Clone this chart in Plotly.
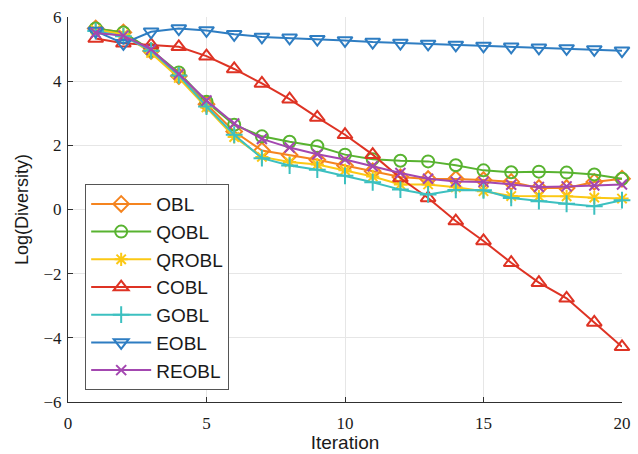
import plotly.graph_objects as go

iterations = list(range(1, 21))

obl   = [5.64, 5.52, 4.94, 4.16, 3.28, 2.43, 1.84, 1.70, 1.55, 1.37, 1.19, 1.01, 0.95, 0.95, 0.92, 0.86, 0.67, 0.67, 0.86, 0.96]
qobl  = [5.64, 5.52, 4.97, 4.27, 3.36, 2.64, 2.28, 2.11, 1.97, 1.71, 1.57, 1.52, 1.50, 1.38, 1.22, 1.16, 1.18, 1.15, 1.09, 0.96]
qrobl = [5.60, 5.46, 4.88, 4.10, 3.18, 2.26, 1.64, 1.48, 1.40, 1.22, 1.03, 0.78, 0.78, 0.69, 0.57, 0.42, 0.41, 0.41, 0.37, 0.34]
cobl  = [5.33, 5.18, 5.13, 5.07, 4.78, 4.38, 3.93, 3.44, 2.87, 2.33, 1.71, 0.98, 0.36, -0.36, -0.98, -1.66, -2.28, -2.77, -3.52, -4.28]
gobl  = [5.56, 5.40, 4.95, 4.18, 3.21, 2.33, 1.60, 1.37, 1.24, 1.05, 0.85, 0.62, 0.47, 0.61, 0.60, 0.36, 0.26, 0.18, 0.10, 0.29]
eobl  = [5.56, 5.18, 5.54, 5.64, 5.58, 5.46, 5.38, 5.35, 5.31, 5.27, 5.22, 5.19, 5.16, 5.13, 5.10, 5.07, 5.04, 5.02, 4.99, 4.95]
reobl = [5.50, 5.42, 4.99, 4.22, 3.40, 2.68, 2.20, 1.93, 1.72, 1.56, 1.35, 1.14, 0.96, 0.87, 0.86, 0.77, 0.70, 0.72, 0.75, 0.78]

names   = ["OBL", "QOBL", "QROBL", "COBL", "GOBL", "EOBL", "REOBL"]
series  = [obl, qobl, qrobl, cobl, gobl, eobl, reobl]
colors  = ["#F5841F", "#58B330", "#FBC814", "#DE3324", "#3CC0C0", "#2E7DC2", "#A347B0"]
symbols = ["diamond-open", "circle-open", "asterisk-open", "triangle-up-open",
           "cross-thin-open", "triangle-down-open", "x-thin-open"]
msizes  = [12, 12, 11, 13, 12, 13, 10]

x_ticks = [0, 5, 10, 15, 20]
y_ticks = [-6, -4, -2, 0, 2, 4, 6]

fig = go.Figure()
for name, ys, c, s, ms in zip(names, series, colors, symbols, msizes):
    fig.add_trace(go.Scatter(
        x=iterations, y=ys, name=name, mode="lines+markers",
        line=dict(color=c, width=2),
        marker=dict(symbol=s, size=ms, color=c, line=dict(color=c, width=2)),
        cliponaxis=False,
    ))

axis_common = dict(
    showgrid=True, gridcolor="#E6E6E6", gridwidth=1,
    showline=True, linecolor="#303030", linewidth=1.2,
    ticks="inside", ticklen=5, tickcolor="#303030",
    tickfont=dict(family="Liberation Serif", size=17, color="#1a1a1a"),
    zeroline=False, mirror=False, automargin=False,
)

fig.update_layout(
    width=638, height=454,
    margin=dict(l=68, r=16, t=17, b=52),
    paper_bgcolor="white", plot_bgcolor="white",
    xaxis=dict(range=[0, 20], tickvals=x_ticks, ticklabelstandoff=5,
               title=dict(text="Iteration", font=dict(family="Liberation Sans", size=19, color="#1a1a1a"), standoff=2),
               **axis_common),
    yaxis=dict(range=[-6, 6], tickvals=y_ticks, ticklabelstandoff=2,
               title=dict(text="Log(Diversity)", font=dict(family="Liberation Sans", size=18, color="#1a1a1a"), standoff=10),
               **axis_common),
    legend=dict(
        x=0.031, y=0.031, xanchor="left", yanchor="bottom",
        bgcolor="white", bordercolor="#555555", borderwidth=1,
        font=dict(family="Liberation Sans", size=19, color="#1a1a1a"),
        itemwidth=60,
    ),
    showlegend=True,
)

fig.write_html("out.html")
